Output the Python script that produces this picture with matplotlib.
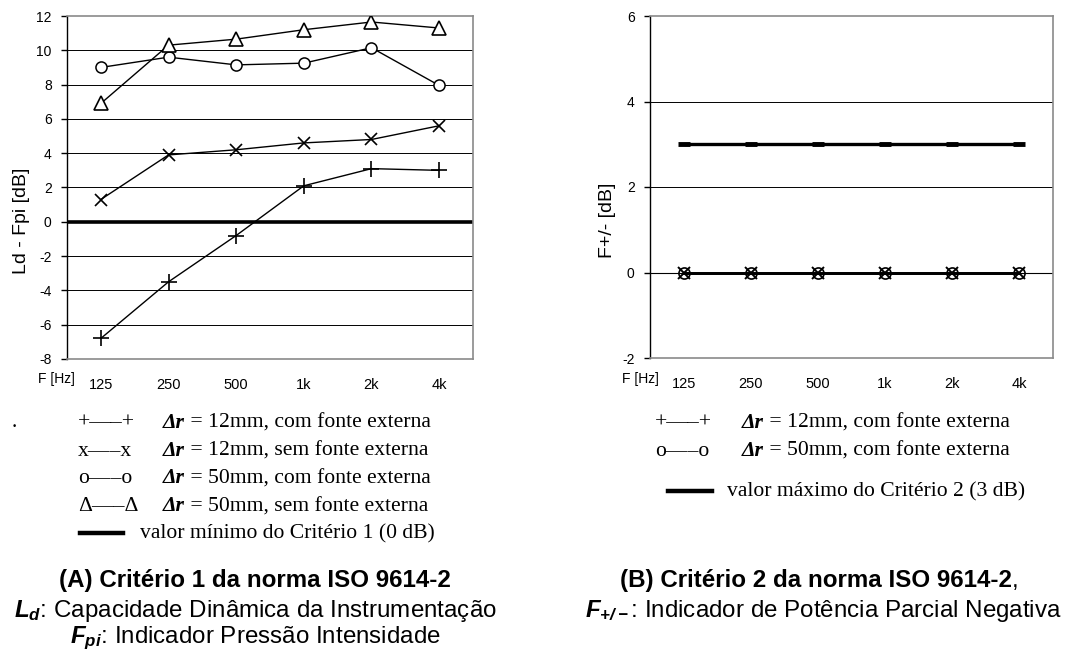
import matplotlib
matplotlib.use("Agg")
import matplotlib.pyplot as plt
import matplotlib.transforms as mtrans

plt.rcParams["font.family"] = ["Liberation Sans", "DejaVu Sans"]
plt.rcParams["axes.unicode_minus"] = False
plt.rcParams["mathtext.fontset"] = "custom"
plt.rcParams["mathtext.rm"] = "Liberation Sans"
plt.rcParams["mathtext.it"] = "Liberation Sans:italic"
plt.rcParams["mathtext.bf"] = "Liberation Sans:bold"
plt.rcParams["mathtext.bfit"] = "Liberation Sans:italic:bold"

# ---- data ----
freq_labels = ["125", "250", "500", "1k", "2k", "4k"]

# Criterion 1: Ld - Fpi [dB]
c1_12mm_com = [-6.8, -3.5, -0.8, 2.1, 3.1, 3.0]
c1_12mm_sem = [1.3, 3.9, 4.2, 4.6, 4.8, 5.6]
c1_50mm_com = [9.0, 9.6, 9.15, 9.25, 10.15, 7.95]
c1_50mm_sem = [6.9, 10.3, 10.65, 11.2, 11.65, 11.3]
c1_minimum = 0

# Criterion 2: F+/- [dB]
c2_12mm_com = [0, 0, 0, 0, 0, 0]
c2_50mm_com = [0, 0, 0, 0, 0, 0]
c2_maximum = [3, 3, 3, 3, 3, 3]

legend_a = [("+—–+", "12mm, com fonte externa"),
            ("x—–x", "12mm, sem fonte externa"),
            ("o—–o", "50mm, com fonte externa"),
            ("Δ—–Δ", "50mm, sem fonte externa")]
legend_a_line = "valor mínimo do Critério 1 (0 dB)"
legend_b = [("+—–+", "12mm, com fonte externa"),
            ("o—–o", "50mm, com fonte externa")]
legend_b_line = "valor máximo do Critério 2 (3 dB)"

W, H = 1069, 650
fig = plt.figure(figsize=(W / 100, H / 100), dpi=100)
pix = mtrans.Affine2D().scale(1 / W, -1 / H).translate(0, 1) + fig.transFigure

def px_rect(x0, y0, x1, y1):
    return [x0 / W, 1 - y1 / H, (x1 - x0) / W, (y1 - y0) / H]

axA = fig.add_axes(px_rect(67, 16, 473, 359))
axB = fig.add_axes(px_rect(650, 16, 1053, 358))
xs = list(range(len(freq_labels)))

def style_axes(ax, ylim, yticks):
    ax.set_xlim(-0.5, len(freq_labels) - 0.5)
    ax.set_ylim(*ylim)
    ax.set_yticks(yticks)
    ax.set_xticks(xs)
    ax.set_xticklabels(freq_labels)
    ax.tick_params(axis="x", length=0, pad=14, labelsize=10.5)
    ax.tick_params(axis="y", length=4, width=1, pad=7, labelsize=10,
                   direction="out", color="black")
    for s in ("top", "right", "bottom"):
        ax.spines[s].set_color("#8a8a8a")
        ax.spines[s].set_linewidth(1.2)
    ax.spines["left"].set_color("black")
    ax.spines["left"].set_linewidth(1.0)
    for t in yticks[1:-1]:
        ax.axhline(t, color="black", lw=0.7, zorder=1)

# ---- panel A ----
style_axes(axA, (-8, 12), list(range(-8, 13, 2)))
axA.axhline(c1_minimum, color="black", lw=2.6, zorder=2)
line_kw = dict(color="black", lw=1.0, zorder=3)
axA.plot(xs, c1_12mm_com, marker="+", ms=11, mew=1.2, **line_kw)
axA.plot(xs, c1_12mm_sem, marker="x", ms=9, mew=1.2, **line_kw)
axA.plot(xs, c1_50mm_com, marker="o", ms=8, mew=1.1, mfc="white", **line_kw)
axA.plot(xs, c1_50mm_sem, marker="^", ms=9.5, mew=1.2, mfc="white", **line_kw)

# ---- panel B ----
style_axes(axB, (-2, 6), [-2, 0, 2, 4, 6])
axB.axhline(0, color="black", lw=0.8, zorder=1)
axB.plot(xs, c2_maximum, color="black", lw=2.4, marker="_", ms=9, mew=3.5,
         solid_capstyle="round", zorder=3)
axB.plot(xs, c2_12mm_com, color="black", lw=2.0, marker="x", ms=8, mew=1.4, zorder=4)
axB.plot(xs, c2_50mm_com, color="black", lw=2.0, marker="o", ms=8, mew=1.2,
         mfc="none", zorder=4)

# axis titles
fig.text(22, 221, "Ld - Fpi [dB]", transform=pix, rotation=90, ha="center",
         va="center", fontsize=14)
fig.text(607, 220, "F+/- [dB]", transform=pix, rotation=90, ha="center",
         va="center", fontsize=14)
fig.text(38, 383, "F [Hz]", transform=pix, ha="left", va="baseline", fontsize=10)
fig.text(622, 383, "F [Hz]", transform=pix, ha="left", va="baseline", fontsize=10)

# ---- legends (text based) ----
SERIF = ["Liberation Serif", "DejaVu Serif"]
LFS = 15.6

def chain(x, y, parts, ha="left"):
    first, props = parts[0]
    t = fig.text(x, y, first, transform=pix, ha=ha, va="baseline", **props)
    prev = t
    for s, p in parts[1:]:
        prev = axB.annotate(s, xy=(1, 0), xycoords=prev, ha="left", va="bottom",
                            annotation_clip=False, **p)
    return t

reg = dict(family=SERIF, fontsize=LFS)
bi = dict(family=SERIF, fontsize=LFS, fontweight="bold", style="italic")

def draw_legend(rows, x_sym, x_txt, y0, dy, line_label, x_l0, x_l1, x_ltxt, y_line):
    for i, (sym, label) in enumerate(rows):
        y = y0 + i * dy
        fig.text(x_sym, y, sym, transform=pix, ha="left", va="baseline", **reg)
        chain(x_txt, y, [("Δr", bi), (" = " + label, reg)])
    fig.add_artist(plt.Line2D([x_l0 / W, x_l1 / W], [1 - (y_line - 6) / H] * 2,
                              color="black", lw=3.2))
    fig.text(x_ltxt, y_line, line_label, transform=pix, ha="left", va="baseline", **reg)

draw_legend(legend_a, 78, 163, 428, 27.7, legend_a_line, 80, 123, 140, 538.5)
draw_legend(legend_b, 655, 742, 428, 27.7, legend_b_line, 668, 712, 727, 496.5)
fig.text(12, 427, ".", transform=pix, ha="left", va="baseline", **reg)

# ---- captions ----
CFS = 17.4
fig.text(255, 587, "(A) Critério 1 da norma ISO 9614-2", transform=pix, ha="center",
         va="baseline", fontsize=CFS, fontweight="bold")
fig.text(255, 616.5, r"$\mathbfit{L}_{\mathbfit{d}}$: Capacidade Dinâmica da Instrumentação",
         transform=pix, ha="center", va="baseline", fontsize=CFS)
fig.text(255, 643, r"$\mathbfit{F}_{\mathbfit{pi}}$: Indicador Pressão Intensidade",
         transform=pix, ha="center", va="baseline", fontsize=CFS)

chain(620, 587, [("(B) Critério 2 da norma ISO 9614-2", dict(fontsize=CFS, fontweight="bold")),
                 (",", dict(fontsize=CFS))])
fig.text(823, 616.5, r"$\mathbfit{F}_{\mathbfit{+/-}}$: Indicador de Potência Parcial Negativa",
         transform=pix, ha="center", va="baseline", fontsize=CFS)

fig.savefig("out.png", dpi=100)
